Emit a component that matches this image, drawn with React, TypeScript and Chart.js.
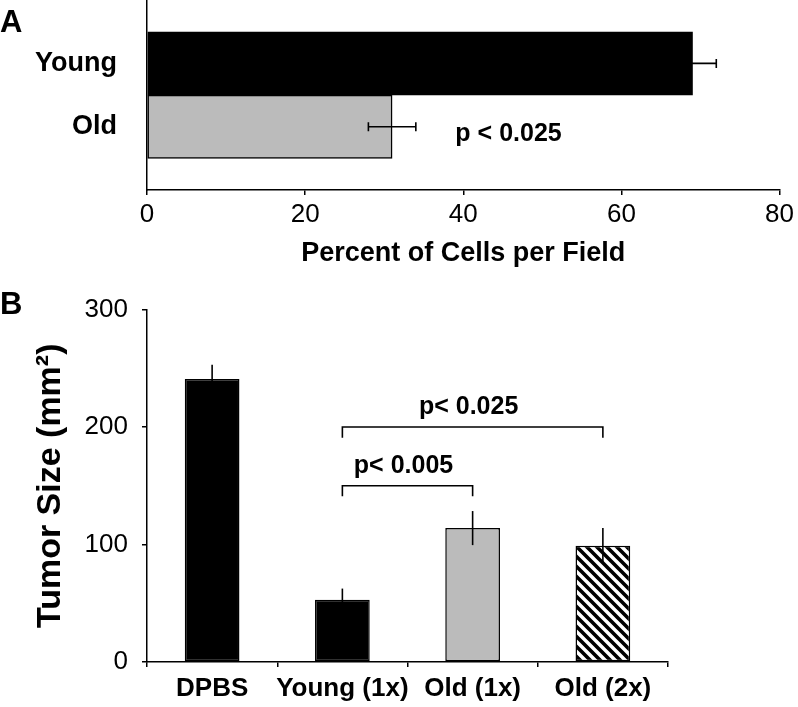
import React, { useEffect, useRef } from 'react';
import { Chart, registerables } from 'chart.js';

Chart.register(...registerables);

// ---------- Panel A data ----------
const groupsA = ['Young', 'Old'];
const valuesA = [69, 31];
const errorsA = [3, 3];
const colorsA = ['#000000', '#bbbbbb'];
const ticksA = [0, 20, 40, 60, 80];
const axisTitleA = 'Percent of Cells per Field';
const noteTextA = 'p < 0.025';
const noteValueA = 39;
const noteGroupA = 'Old';

// ---------- Panel B data ----------
const groupsB = ['DPBS', 'Young (1x)', 'Old (1x)', 'Old (2x)'];
const valuesB = [241, 53, 114, 99];
const errorsB = [12, 9.5, 14.5, 15];
const ticksB = [0, 100, 200, 300];
const axisTitleB = 'Tumor Size (mm²)';
const bracketFrom = ['Young (1x)', 'Young (1x)'];
const bracketTo = ['Old (1x)', 'Old (2x)'];
const bracketLevel = [150, 200];
const bracketLeg = [9, 9];
const bracketText = ['p< 0.005', 'p< 0.025'];

const FAMILY = "'Liberation Sans', Arial, Helvetica, sans-serif";

function makeHatch(): CanvasPattern | string {
  const c = document.createElement('canvas');
  c.width = 10;
  c.height = 10;
  const g = c.getContext('2d');
  if (!g) return '#888';
  g.fillStyle = '#fff';
  g.fillRect(0, 0, 10, 10);
  g.strokeStyle = '#000';
  g.lineWidth = 3.6;
  g.lineCap = 'square';
  g.beginPath();
  g.moveTo(-5, -5); g.lineTo(15, 15);
  g.moveTo(-5, 5); g.lineTo(5, 15);
  g.moveTo(5, -5); g.lineTo(15, 5);
  g.stroke();
  return g.createPattern(c, 'repeat') || '#888';
}

export default function App() {
  const refA = useRef<HTMLCanvasElement | null>(null);
  const refB = useRef<HTMLCanvasElement | null>(null);

  useEffect(() => {
    Chart.defaults.font.family = FAMILY;
    Chart.defaults.color = '#000';

    const labelsA = ['', ...groupsA, ''];
    const dataA = [null, ...valuesA, null];
    const errA = [null, ...errorsA, null];
    const colA = ['#000', ...colorsA, '#000'];

    const errorBarsA = {
      id: 'errorBarsA',
      afterDatasetsDraw(chart: any) {
        const ctx = chart.ctx;
        const xs = chart.scales.x;
        const meta = chart.getDatasetMeta(0);
        ctx.save();
        ctx.strokeStyle = '#000';
        ctx.lineWidth = 1.6;
        meta.data.forEach((bar: any, i: number) => {
          const v = dataA[i];
          const e = errA[i];
          if (v == null || e == null) return;
          const y = bar.y;
          const x1 = xs.getPixelForValue(v - e);
          const x2 = xs.getPixelForValue(v + e);
          ctx.beginPath();
          ctx.moveTo(x1, y); ctx.lineTo(x2, y);
          ctx.moveTo(x1, y - 4.5); ctx.lineTo(x1, y + 4.5);
          ctx.moveTo(x2, y - 4.5); ctx.lineTo(x2, y + 4.5);
          ctx.stroke();
        });
        const ys = chart.scales.y;
        ctx.fillStyle = '#000';
        ctx.font = `bold 25px ${FAMILY}`;
        ctx.textAlign = 'left';
        ctx.textBaseline = 'middle';
        ctx.fillText(noteTextA, xs.getPixelForValue(noteValueA), ys.getPixelForValue(labelsA.indexOf(noteGroupA)) + 7);
        ctx.restore();
      },
    };

    const chartA = new Chart(refA.current as HTMLCanvasElement, {
      type: 'bar',
      data: {
        labels: labelsA,
        datasets: [
          {
            data: dataA as any,
            backgroundColor: colA,
            borderColor: '#000',
            borderWidth: 1.5,
            borderSkipped: false,
            barPercentage: 1,
            categoryPercentage: 1,
          },
        ],
      },
      options: {
        indexAxis: 'y',
        animation: false,
        responsive: false,
        layout: { padding: { left: 0, right: 16, top: 0, bottom: 0 } },
        plugins: { legend: { display: false }, tooltip: { enabled: false }, title: { display: false } },
        scales: {
          x: {
            type: 'linear',
            min: ticksA[0],
            max: ticksA[ticksA.length - 1],
            afterBuildTicks: (scale: any) => {
              scale.ticks = ticksA.map((v) => ({ value: v }));
            },
            afterFit: (scale: any) => {
              scale.height = 85;
            },
            grid: { drawOnChartArea: false, drawTicks: true, tickLength: 5, color: '#000', lineWidth: 1.5 },
            border: { display: true, color: '#000', width: 1.5 },
            ticks: { font: { size: 26, family: FAMILY }, color: '#000', padding: 4, maxRotation: 0 },
            title: {
              display: true,
              text: axisTitleA,
              color: '#000',
              font: { size: 27, weight: 'bold', family: FAMILY },
              padding: { top: 0, bottom: 5 },
            },
          },
          y: {
            type: 'category',
            offset: false,
            afterFit: (scale: any) => {
              scale.width = 147;
            },
            grid: {
              display: true,
              offset: false,
              drawOnChartArea: false,
              drawTicks: true,
              tickLength: 30,
              color: 'rgba(0,0,0,0)',
            },
            border: { display: true, color: '#000', width: 1.5 },
            ticks: {
              font: { size: 27, weight: 'bold', family: FAMILY, lineHeight: 0.01 },
              color: '#000',
              padding: 0,
              callback: function (this: any, v: any) {
                const l = this.getLabelForValue(v);
                return l === '' ? null : l;
              },
            },
          },
        },
      },
      plugins: [errorBarsA],
    });

    const hatch = makeHatch();
    const colB = ['#000000', '#000000', '#bbbbbb', hatch];

    const overlayB = {
      id: 'overlayB',
      afterDatasetsDraw(chart: any) {
        const ctx = chart.ctx;
        const xs = chart.scales.x;
        const ys = chart.scales.y;
        const meta = chart.getDatasetMeta(0);
        ctx.save();
        ctx.strokeStyle = '#000';
        ctx.lineWidth = 1.6;
        meta.data.forEach((bar: any, i: number) => {
          const v = valuesB[i];
          const e = errorsB[i];
          const x = bar.x;
          ctx.beginPath();
          ctx.moveTo(x, ys.getPixelForValue(v - e));
          ctx.lineTo(x, ys.getPixelForValue(v + e));
          ctx.stroke();
        });
        ctx.fillStyle = '#000';
        ctx.font = `bold 25px ${FAMILY}`;
        ctx.textAlign = 'center';
        ctx.textBaseline = 'alphabetic';
        bracketText.forEach((t, k) => {
          const x1 = xs.getPixelForValue(groupsB.indexOf(bracketFrom[k]));
          const x2 = xs.getPixelForValue(groupsB.indexOf(bracketTo[k]));
          const y = ys.getPixelForValue(bracketLevel[k]);
          const yl = ys.getPixelForValue(bracketLevel[k] - bracketLeg[k]);
          ctx.beginPath();
          ctx.moveTo(x1, yl);
          ctx.lineTo(x1, y);
          ctx.lineTo(x2, y);
          ctx.lineTo(x2, yl);
          ctx.stroke();
          ctx.fillText(t, (x1 + x2) / 2 - 4, y - 13);
        });
        ctx.restore();
      },
    };

    const chartB = new Chart(refB.current as HTMLCanvasElement, {
      type: 'bar',
      data: {
        labels: groupsB,
        datasets: [
          {
            data: valuesB,
            backgroundColor: colB as any,
            borderColor: '#000',
            borderWidth: 1.5,
            borderSkipped: false,
            barPercentage: 0.42,
            categoryPercentage: 1,
          },
        ],
      },
      options: {
        animation: false,
        responsive: false,
        layout: { padding: { left: 0, right: 130, top: 29, bottom: 0 } },
        plugins: { legend: { display: false }, tooltip: { enabled: false }, title: { display: false } },
        scales: {
          x: {
            type: 'category',
            offset: true,
            afterFit: (scale: any) => {
              scale.height = 45;
            },
            grid: { offset: true, drawOnChartArea: false, drawTicks: true, tickLength: 5, color: '#000', lineWidth: 1.5 },
            border: { display: true, color: '#000', width: 1.5 },
            ticks: { font: { size: 26, weight: 'bold', family: FAMILY }, color: '#000', padding: 6, maxRotation: 0, autoSkip: false },
          },
          y: {
            type: 'linear',
            min: ticksB[0],
            max: ticksB[ticksB.length - 1],
            afterBuildTicks: (scale: any) => {
              scale.ticks = ticksB.map((v) => ({ value: v }));
            },
            afterFit: (scale: any) => {
              scale.width = 147;
            },
            grid: { drawOnChartArea: false, drawTicks: true, tickLength: 5, color: '#000', lineWidth: 1.5 },
            border: { display: true, color: '#000', width: 1.5 },
            ticks: { font: { size: 26, family: FAMILY }, color: '#000', padding: 14 },
            title: {
              display: true,
              text: axisTitleB,
              color: '#000',
              font: { size: 34, weight: 'bold', family: FAMILY },
              padding: { top: 30, bottom: 0 },
            },
          },
        },
      },
      plugins: [overlayB],
    });

    return () => {
      chartA.destroy();
      chartB.destroy();
    };
  }, []);

  const letter: React.CSSProperties = {
    position: 'absolute',
    left: 0,
    fontFamily: FAMILY,
    fontWeight: 'bold',
    fontSize: 31,
    lineHeight: 1,
    color: '#000',
  };

  return (
    <div style={{ position: 'fixed', left: 0, top: 0, width: 798, height: 707, background: '#fff', overflow: 'hidden' }}>
      <canvas ref={refA} width={798} height={275} style={{ position: 'absolute', left: 0, top: 0 }} />
      <canvas ref={refB} width={798} height={427} style={{ position: 'absolute', left: 0, top: 280 }} />
      <div style={{ ...letter, top: 6 }}>A</div>
      <div style={{ ...letter, top: 288 }}>B</div>
    </div>
  );
}
